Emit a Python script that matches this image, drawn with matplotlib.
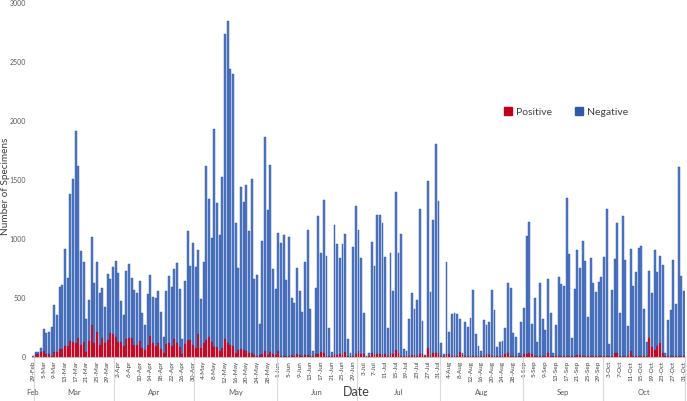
import numpy as np
import pandas as pd
import matplotlib
matplotlib.use('Agg')
import matplotlib.pyplot as plt
from matplotlib.patches import Patch

plt.rcParams['font.family'] = ['Lato', 'DejaVu Sans']

# categories: 29-Feb, then 2-Mar .. 31-Oct (1-Mar absent in the source)
dates = [pd.Timestamp('2020-02-29')] + list(pd.date_range('2020-03-02', '2020-10-31'))
labels = [f'{d.day}-{d.strftime("%b")}' for d in dates]
months = ['Feb', 'Mar', 'Apr', 'May', 'Jun', 'Jul', 'Aug', 'Sep', 'Oct']

# total specimens per day (positive + negative)
total = [5, 42, 37, 76, 232, 198, 212, 251, 438, 350, 588, 610, 910, 667, 1378, 1503, 1914, 1615, 898, 802,
         319, 480, 1014, 622, 800, 537, 579, 421, 698, 658, 762, 813, 709, 474, 350, 726, 782, 664, 565, 542,
         644, 367, 268, 528, 692, 508, 500, 554, 376, 169, 554, 686, 593, 740, 791, 571, 147, 641, 1065, 768,
         966, 762, 904, 489, 802, 1615, 1333, 1008, 1931, 1304, 1028, 1525, 2733, 2841, 2437, 2392, 1130, 749, 1435, 1310,
         1454, 1065, 1503, 656, 690, 277, 978, 1861, 1243, 1623, 744, 572, 1051, 966, 1030, 649, 1016, 497, 452, 749,
         556, 381, 800, 1077, 406, 51, 579, 1191, 881, 1325, 855, 243, 42, 1116, 955, 839, 955, 1042, 150, 28,
         926, 1276, 1073, 833, 370, 5, 28, 971, 771, 1200, 1200, 1135, 847, 240, 876, 556, 1397, 878, 1036, 62,
         48, 319, 536, 406, 480, 1248, 305, 17, 1491, 548, 1158, 1802, 1321, 119, 23, 805, 207, 362, 370, 361,
         322, 28, 296, 248, 330, 565, 189, 90, 51, 308, 265, 291, 565, 395, 85, 127, 133, 246, 621, 582,
         200, 164, 31, 296, 409, 1022, 1143, 277, 497, 124, 621, 322, 226, 658, 370, 34, 268, 672, 615, 598,
         1349, 869, 161, 573, 901, 754, 977, 813, 339, 833, 624, 548, 630, 672, 847, 1248, 110, 565, 830, 1135,
         367, 1191, 819, 260, 912, 598, 714, 917, 934, 404, 121, 723, 542, 901, 714, 855, 779, 28, 311, 392,
         819, 446, 1609, 683, 559]

positive = [0, 20, 23, 40, 48, 23, 23, 6, 42, 37, 62, 62, 90, 90, 130, 121, 116, 155, 96, 121,
            42, 130, 268, 119, 206, 96, 158, 116, 144, 200, 195, 167, 121, 124, 90, 147, 158, 161, 99, 99,
            135, 76, 56, 99, 175, 113, 90, 113, 62, 28, 104, 113, 90, 152, 113, 85, 23, 104, 141, 141,
            99, 71, 192, 71, 113, 141, 164, 124, 85, 79, 51, 73, 147, 119, 96, 90, 28, 56, 62, 56,
            51, 34, 28, 11, 6, 11, 23, 45, 17, 40, 23, 17, 45, 6, 8, 8, 10, 12, 8, 20,
            14, 8, 16, 12, 6, 4, 20, 25, 40, 35, 10, 5, 3, 20, 15, 25, 18, 40, 5, 3,
            10, 20, 45, 25, 25, 0, 3, 30, 15, 25, 20, 15, 25, 8, 30, 20, 55, 35, 10, 5,
            3, 10, 12, 15, 10, 25, 20, 3, 70, 15, 30, 30, 35, 5, 3, 25, 20, 5, 3, 5,
            40, 12, 3, 5, 5, 5, 5, 5, 5, 10, 25, 15, 8, 3, 3, 3, 3, 20, 30, 10,
            3, 3, 3, 3, 20, 20, 35, 20, 5, 3, 5, 5, 3, 35, 5, 3, 3, 5, 5, 5,
            5, 5, 3, 5, 15, 15, 10, 5, 3, 10, 8, 3, 5, 8, 5, 10, 3, 5, 28, 28,
            5, 5, 10, 5, 50, 3, 5, 5, 3, 3, 10, 160, 85, 55, 90, 120, 35, 10, 3, 5,
            10, 8, 10, 10, 5]

total = np.array(total)
positive = np.array(positive)
negative = total - positive
x = np.arange(len(dates))

fig = plt.figure(figsize=(6.87, 4.01), dpi=100)
ax = fig.add_axes([0.0461, 0.1105, 0.9514, 0.8828])

ax.bar(x, positive, width=0.72, color='#c8102e', edgecolor='#b0001c', linewidth=0.3)
ax.bar(x, negative, bottom=positive, width=0.72, color='#4f78c4', edgecolor='#2f56a3', linewidth=0.3)

ax.set_xlim(-0.5, len(dates) - 0.5)
ax.set_ylim(0, 3000)
ax.set_yticks(range(0, 3001, 500))
ax.tick_params(axis='y', length=0, labelsize=5, labelcolor='#595959', pad=4)

tick_idx = x[::4]
ax.set_xticks(tick_idx)
ax.set_xticklabels([labels[i] for i in tick_idx], rotation=90, fontsize=4.6, color='#404040')
ax.tick_params(axis='x', length=0, pad=3)

for s in ['top', 'right', 'left']:
    ax.spines[s].set_visible(False)
ax.spines['bottom'].set_color('#bfbfbf')
ax.spines['bottom'].set_linewidth(0.8)

# month group labels and separators under the dates
month_of = np.array([d.month for d in dates])
trans = ax.get_xaxis_transform()
for m in range(2, 11):
    idx = np.where(month_of == m)[0]
    ax.text(idx.mean(), -0.1, months[m - 2], transform=trans, ha='center', va='center',
            fontsize=5.5, color='#595959', clip_on=False)
    ax.plot([idx[-1] + 0.5, idx[-1] + 0.5], [0, -0.13], transform=trans, color='#d9d9d9',
            linewidth=0.8, clip_on=False)

ax.set_ylabel('Number of Specimens', fontsize=7.2, color='#404040')
ax.yaxis.set_label_coords(-0.033, 0.48)
fig.text(0.518, 0.008, 'Date', ha='center', va='bottom', fontsize=9, color='#404040')

handles = [Patch(color='#c00018', label='Positive'), Patch(color='#2e5ba8', label='Negative')]
fig.legend(handles=handles, loc='center', bbox_to_anchor=(0.824, 0.72), ncol=2, frameon=False,
           fontsize=7.5, labelcolor='#404040', handlelength=0.8, handleheight=0.8,
           handletextpad=0.4, columnspacing=2.2)

fig.savefig('out.png', dpi=100)
